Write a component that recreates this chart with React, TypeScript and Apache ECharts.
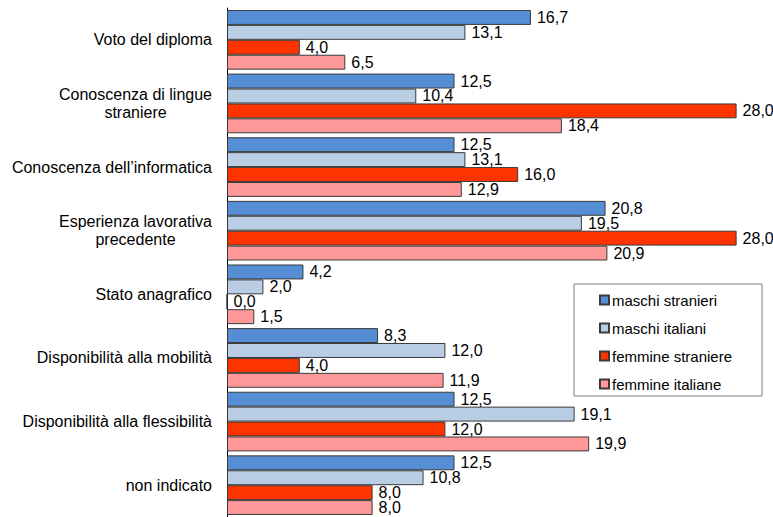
import React, { useEffect, useRef } from "react";
import * as echarts from "echarts";

const categories = [
  "Voto del diploma",
  "Conoscenza di lingue\nstraniere",
  "Conoscenza dell\u2019informatica",
  "Esperienza lavorativa\nprecedente",
  "Stato anagrafico",
  "Disponibilità alla mobilità",
  "Disponibilità alla flessibilità",
  "non indicato",
];

const seriesNames = ["maschi stranieri", "maschi italiani", "femmine straniere", "femmine italiane"];

const maschiStranieri = [16.7, 12.5, 12.5, 20.8, 4.2, 8.3, 12.5, 12.5];
const maschiItaliani = [13.1, 10.4, 13.1, 19.5, 2.0, 12.0, 19.1, 10.8];
const femmineStraniere = [4.0, 28.0, 16.0, 28.0, 0.0, 4.0, 12.0, 8.0];
const femmineItaliane = [6.5, 18.4, 12.9, 20.9, 1.5, 11.9, 19.9, 8.0];

const seriesData = [maschiStranieri, maschiItaliani, femmineStraniere, femmineItaliane];
const colors = ["#558ED5", "#B9CDE5", "#FF3300", "#FF9999"];

const FONT = "'Liberation Sans', Arial, sans-serif";

export default function App() {
  const ref = useRef<HTMLDivElement>(null);

  useEffect(() => {
    if (!ref.current) return;
    const chart = echarts.init(ref.current, null, { renderer: "svg" });
    chart.setOption({
      animation: false,
      backgroundColor: "#ffffff",
      textStyle: { fontFamily: FONT },
      grid: { left: 227, top: 8, width: 546, height: 511, containLabel: false },
      legend: {
        orient: "vertical",
        left: 574,
        top: 284,
        padding: [7, 30, 3, 25],
        itemGap: 10,
        itemWidth: 9,
        itemHeight: 9,
        icon: "rect",
        borderColor: "#7f7f7f",
        borderWidth: 1,
        backgroundColor: "#ffffff",
        data: seriesNames,
        textStyle: { fontFamily: FONT, fontSize: 15, color: "#000", lineHeight: 18, padding: [0, 0, 0, -2] },
      },
      xAxis: {
        type: "value",
        min: 0,
        max: 30,
        show: false,
      },
      yAxis: {
        type: "category",
        data: categories,
        inverse: true,
        axisLine: { show: true, lineStyle: { color: "#000", width: 1 } },
        axisTick: { show: false },
        splitLine: { show: false },
        axisLabel: {
          margin: 15,
          fontFamily: FONT,
          fontSize: 16,
          color: "#000",
          lineHeight: 18,
          formatter: (v: string) =>
            v.includes("\n") ? v.split("\n").map((l) => `{c|${l}}`).join("\n") : v,
          rich: {
            c: { width: 153, align: "center", fontFamily: FONT, fontSize: 16, color: "#000", lineHeight: 18 },
          },
        },
      },
      series: seriesNames.map((name, i) => ({
        name,
        type: "bar",
        data: seriesData[i],
        barGap: "0%",
        barCategoryGap: "6.25%",
        itemStyle: { color: colors[i], borderColor: "#3a3a3a", borderWidth: 1 },
        label: {
          show: true,
          position: "right",
          distance: 6,
          fontFamily: FONT,
          fontSize: 16,
          color: "#000",
          formatter: (p: any) => Number(p.value).toFixed(1).replace(".", ","),
        },
      })),
    });
    return () => chart.dispose();
  }, []);

  return (
    <div
      ref={ref}
      style={{ position: "fixed", left: 0, top: 0, width: 773, height: 517 }}
    />
  );
}
